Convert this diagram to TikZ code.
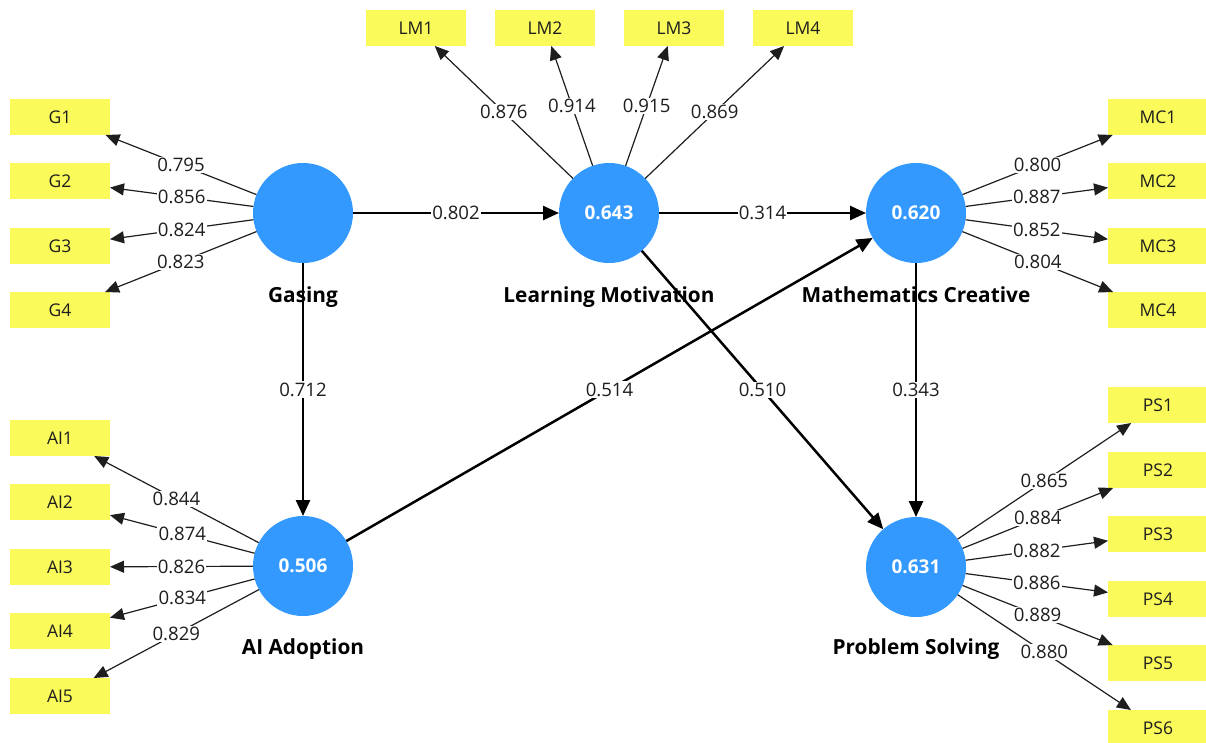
\documentclass[tikz,border=0pt]{standalone}
\usepackage{fontspec}
\setmainfont{Open Sans}
\usetikzlibrary{arrows.meta}
\definecolor{lvblue}{RGB}{51,153,255}
\definecolor{mvyellow}{RGB}{250,250,90}
\definecolor{ink}{RGB}{30,30,30}

\begin{document}
\begin{tikzpicture}[x=1pt,y=-1pt,
  latent/.style={circle,fill=lvblue,minimum size=100pt,inner sep=0pt,outer sep=0pt,
    text=white,font=\bfseries\fontsize{19}{21}\selectfont},
  indbox/.style={rectangle,fill=mvyellow,minimum width=100pt,minimum height=36pt,
    inner sep=0pt,outer sep=0pt,text=ink,font=\fontsize{17.5}{20}\selectfont},
  lvname/.style={anchor=base,text=black,font=\bfseries\fontsize{20.8}{23}\selectfont},
  loading/.style={draw=ink,line width=1.2pt,-{Triangle[length=14pt,width=12pt]}},
  struct/.style={draw=black,line width=2.5pt,-{Triangle[length=16pt,width=14pt]}},
  coef/.style={midway,fill=white,inner sep=1.2pt,text=ink,font=\fontsize{18.6}{21}\selectfont}
]
\useasboundingbox (0,0) rectangle (1206,742);
\clip (0,0) rectangle (1206,742);

% latent variables
\node[latent] (G)  at (303,213) {};
\node[latent] (LM) at (609,213) {0.643};
\node[latent] (MC) at (916,213) {0.620};
\node[latent] (AI) at (303,566) {0.506};
\node[latent] (PS) at (916,567) {0.631};

% latent variable names
\node[lvname] (Gname)  at (303,302) {Gasing};
\node[lvname] (LMname) at (609,302) {Learning Motivation};
\node[lvname] (MCname) at (916,302) {Mathematics Creative};
\node[lvname] (AIname) at (303,654) {AI Adoption};
\node[lvname] (PSname) at (916,654) {Problem Solving};

% indicators
\node[indbox] (G1) at (60,117) {G1};
\node[indbox] (G2) at (60,181) {G2};
\node[indbox] (G3) at (60,246) {G3};
\node[indbox] (G4) at (60,310) {G4};

\node[indbox] (AI1) at (60,438) {AI1};
\node[indbox] (AI2) at (60,502) {AI2};
\node[indbox] (AI3) at (60,567) {AI3};
\node[indbox] (AI4) at (60,631) {AI4};
\node[indbox] (AI5) at (60,696) {AI5};

\node[indbox] (LM1) at (416,28) {LM1};
\node[indbox] (LM2) at (545,28) {LM2};
\node[indbox] (LM3) at (674,28) {LM3};
\node[indbox] (LM4) at (803,28) {LM4};

\node[indbox] (MC1) at (1158,117) {MC1};
\node[indbox] (MC2) at (1158,181) {MC2};
\node[indbox] (MC3) at (1158,246) {MC3};
\node[indbox] (MC4) at (1158,310) {MC4};

\node[indbox] (PS1) at (1158,405) {PS1};
\node[indbox] (PS2) at (1158,470) {PS2};
\node[indbox] (PS3) at (1158,534) {PS3};
\node[indbox] (PS4) at (1158,599) {PS4};
\node[indbox] (PS5) at (1158,663) {PS5};
\node[indbox] (PS6) at (1158,728) {PS6};

% outer loadings
\draw[loading] (G) -- node[coef]{0.795} (G1);
\draw[loading] (G) -- node[coef]{0.856} (G2);
\draw[loading] (G) -- node[coef]{0.824} (G3);
\draw[loading] (G) -- node[coef]{0.823} (G4);

\draw[loading] (AI) -- node[coef]{0.844} (AI1);
\draw[loading] (AI) -- node[coef]{0.874} (AI2);
\draw[loading] (AI) -- node[coef]{0.826} (AI3);
\draw[loading] (AI) -- node[coef]{0.834} (AI4);
\draw[loading] (AI) -- node[coef]{0.829} (AI5);

\draw[loading] (LM) -- node[coef]{0.876} (LM1);
\draw[loading] (LM) -- node[coef]{0.914} (LM2);
\draw[loading] (LM) -- node[coef]{0.915} (LM3);
\draw[loading] (LM) -- node[coef]{0.869} (LM4);

\draw[loading] (MC) -- node[coef]{0.800} (MC1);
\draw[loading] (MC) -- node[coef]{0.887} (MC2);
\draw[loading] (MC) -- node[coef]{0.852} (MC3);
\draw[loading] (MC) -- node[coef]{0.804} (MC4);

\draw[loading] (PS) -- node[coef]{0.865} (PS1);
\draw[loading] (PS) -- node[coef]{0.884} (PS2);
\draw[loading] (PS) -- node[coef]{0.882} (PS3);
\draw[loading] (PS) -- node[coef]{0.886} (PS4);
\draw[loading] (PS) -- node[coef]{0.889} (PS5);
\draw[loading] (PS) -- node[coef]{0.880} (PS6);

% path coefficients
\draw[struct] (G)  -- node[coef]{0.802} (LM);
\draw[struct] (LM) -- node[coef]{0.314} (MC);
\draw[struct] (G)  -- node[coef]{0.712} (AI);
\draw[struct] (AI) -- node[coef]{0.514} (MC);
\draw[struct] (LM) -- node[coef]{0.510} (PS);
\draw[struct] (MC) -- node[coef]{0.343} (PS);
\end{tikzpicture}
\end{document}
